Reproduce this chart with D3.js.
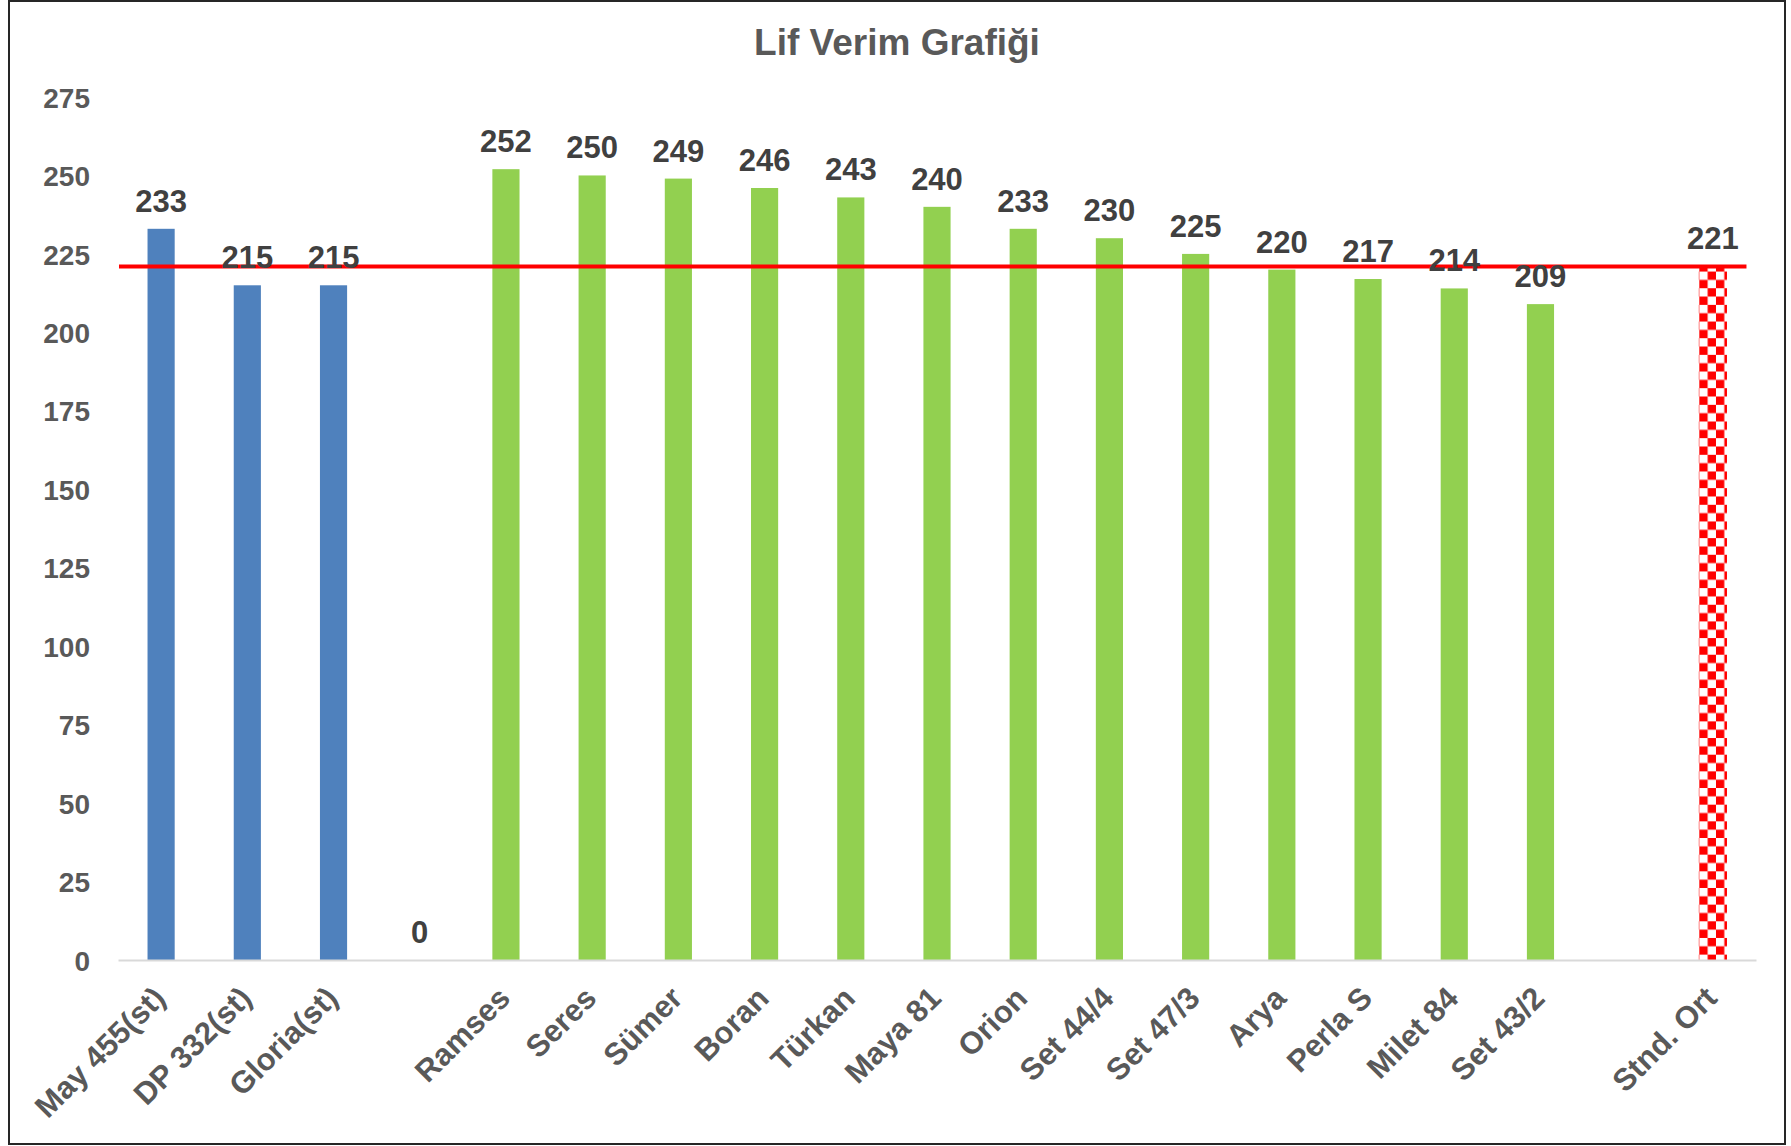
<!DOCTYPE html>
<html>
<head>
<meta charset="utf-8">
<script src="https://cdn.jsdelivr.net/npm/d3@7"></script>
<style>
  html, body { margin: 0; padding: 0; background: #fff; }
  svg { display: block; font-family: "Liberation Sans", Arial, sans-serif; }
</style>
</head>
<body>
<svg id="chart" width="1791" height="1146"></svg>
<script>
// ---- data ----
const title = "Lif Verim Grafiği";
const categories = ["May 455(st)", "DP 332(st)", "Gloria(st)", "", "Ramses", "Seres", "Sümer", "Boran",
  "Türkan", "Maya 81", "Orion", "Set 44/4", "Set 47/3", "Arya", "Perla S", "Milet 84", "Set 43/2", " ", "Stnd. Ort"];
const values = [233, 215, 215, 0, 252, 250, 249, 246, 243, 240, 233, 230, 225, 220, 217, 214, 209, null, 221];
const groups = ["std", "std", "std", "gap", "new", "new", "new", "new", "new", "new", "new", "new", "new", "new", "new", "new", "new", "gap", "avg"];
const averageValue = 221;
const yTicks = [0, 25, 50, 75, 100, 125, 150, 175, 200, 225, 250, 275];

// ---- layout ----
const W = 1791, H = 1146;
const plot = { left: 118, right: 1756, top: 97, bottom: 960 };
const colors = { std: "#4F81BD", new: "#92D050" };

const svg = d3.select("#chart");

const x = d3.scaleBand().domain(categories).range([plot.left, plot.right]).paddingInner(0.685).paddingOuter(0.3425);
const y = d3.scaleLinear().domain([0, 275]).range([plot.bottom, plot.top]);

const bw = x.bandwidth();
const avgLeft = x("Stnd. Ort");
const sq = 8.33;
const defs = svg.append("defs");
const pat = defs.append("pattern").attr("id", "checker").attr("patternUnits", "userSpaceOnUse")
  .attr("x", avgLeft).attr("y", 5).attr("width", sq * 2).attr("height", sq * 2);
pat.append("rect").attr("width", sq * 2).attr("height", sq * 2).attr("fill", "#fff");
pat.append("rect").attr("x", sq).attr("y", 0).attr("width", sq).attr("height", sq).attr("fill", "#FF0000");
pat.append("rect").attr("x", 0).attr("y", sq).attr("width", sq).attr("height", sq).attr("fill", "#FF0000");

// background + border
svg.append("rect").attr("x", 9).attr("y", 1).attr("width", 1776).attr("height", 1143)
  .attr("fill", "#fff").attr("stroke", "#262626").attr("stroke-width", 2);

// title
svg.append("text").attr("x", 897).attr("y", 55).attr("text-anchor", "middle")
  .attr("font-size", 37).attr("font-weight", "bold").attr("fill", "#595959").text(title);

// y axis labels
const yAxis = d3.axisLeft(y).tickValues(yTicks).tickSize(0).tickPadding(0);
const yg = svg.append("g").attr("transform", `translate(90,0)`).call(yAxis);
yg.select(".domain").remove();
yg.selectAll("text").attr("font-size", 28).attr("font-weight", "bold").attr("fill", "#595959")
  .attr("font-family", "Liberation Sans, Arial, sans-serif").attr("dy", "0.36em");

// bars
const data = categories.map((c, i) => ({ c, v: values[i], g: groups[i] }));
svg.append("g").selectAll("rect").data(data.filter(d => d.v !== null && d.v > 0)).join("rect")
  .attr("x", d => d.g === "avg" ? x(d.c) - 0.5 : x(d.c))
  .attr("width", d => d.g === "avg" ? bw + 1 : bw)
  .attr("y", d => y(d.v))
  .attr("height", d => y(0) - y(d.v))
  .attr("fill", d => d.g === "avg" ? "url(#checker)" : colors[d.g]);

// x axis line
const xAxis = d3.axisBottom(x).tickSize(0).tickFormat("");
const xg = svg.append("g").attr("transform", `translate(0,${plot.bottom})`).call(xAxis);
xg.select(".domain").attr("stroke", "#D9D9D9").attr("stroke-width", 2);
xg.selectAll("text").remove();

// x labels rotated
svg.append("g").selectAll("text").data(data.filter(d => d.c.trim() !== "")).join("text")
  .attr("transform", d => `translate(${x(d.c) + bw / 2 + 6},1000) rotate(-45)`)
  .attr("text-anchor", "end")
  .attr("font-size", 31).attr("font-weight", "bold").attr("fill", "#595959")
  .text(d => d.c);

// average line
svg.append("line")
  .attr("x1", plot.left + 1).attr("x2", x("Stnd. Ort") + bw + 20)
  .attr("y1", y(averageValue)).attr("y2", y(averageValue))
  .attr("stroke", "#FF0000").attr("stroke-width", 4);

// data labels
svg.append("g").selectAll("text").data(data.filter(d => d.v !== null)).join("text")
  .attr("x", d => x(d.c) + bw / 2)
  .attr("y", d => y(d.v) - 17)
  .attr("text-anchor", "middle")
  .attr("font-size", 31).attr("font-weight", "bold").attr("fill", "#404040")
  .text(d => d.v);
</script>
</body>
</html>
